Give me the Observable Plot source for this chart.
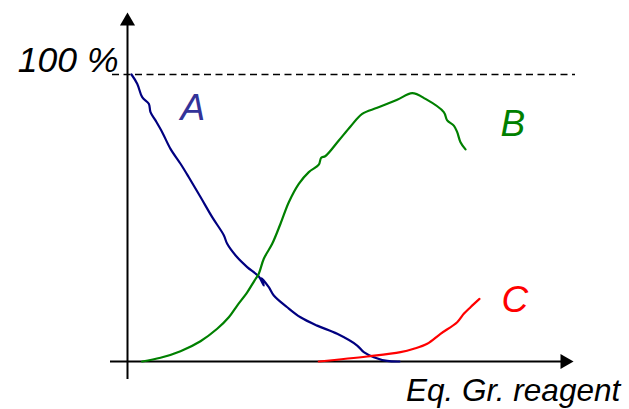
<!DOCTYPE html>
<html>
<head>
<meta charset="utf-8">
<script src="https://cdn.jsdelivr.net/npm/d3@7"></script>
<script src="https://cdn.jsdelivr.net/npm/@observablehq/plot@0.6"></script>
<style>
  html, body { margin: 0; padding: 0; background: #fff; }
  #chart svg { display: block; font-family: "Liberation Sans", Arial, sans-serif; }
</style>
</head>
<body>
<div id="chart"></div>
<script>
// Series A (reactant), x = equivalents of Grignard reagent, y = %
const seriesA_x = [0.04,0.097,0.147,0.213,0.23,0.28,0.347,0.43,0.53,0.613,0.73,0.847,0.963,0.997,1.097,1.197,1.313,1.363,1.34,1.413,1.463,1.597,1.73,1.897,2.097,2.297,2.363,2.463,2.597,2.72];
const seriesA_y = [100,96.8,92.1,89.8,86.9,84.0,79.9,74.1,68.9,64.2,57.3,50.3,44.0,41.0,36.3,32.9,29.6,26.5,29.0,25.9,23.0,18.9,15.4,12.5,9.65,5.57,3.24,1.5,0.2,0];

// Series B (intermediate)
const seriesB_x = [0.147,0.33,0.53,0.73,0.897,1.013,1.097,1.197,1.27,1.313,1.363,1.447,1.53,1.613,1.713,1.813,1.913,1.937,1.98,2.113,2.23,2.347,2.497,2.697,2.847,2.98,3.163,3.197,3.263,3.297,3.33,3.38];
const seriesB_y = [0,1.29,3.59,7.07,11.4,15.4,19.5,24.1,28.2,30.6,35.8,41.0,48.0,55.5,61.9,66.0,68.6,71.0,71.6,77.0,81.9,86.3,88.4,91.2,93.5,91.5,86.9,84.0,82.2,79.9,76.4,73.9];

// Series C (product)
const seriesC_x = [1.913,2.397,2.73,2.863,2.997,3.13,3.297,3.363,3.43,3.52];
const seriesC_y = [0,1.74,3.24,4.42,6.17,9.65,13.7,16.6,18.9,21.8];

// Labels
const seriesNames = ["A", "B", "C"];
const lineColors = ["#000080", "#008000", "#ff0000"];
const labelColors = ["#333399", "#008000", "#ff0000"];
const labelX = [0.53, 3.73, 3.74];
const labelY = [84.0, 78.4, 17.4];
const yTickLabel = "100 %";
const yTickValue = 100;
const xAxisTitle = "Eq. Gr. reagent";

// Axis extents (data units)
const xAxisStart = -0.17, xAxisTip = 4.46;
const yAxisBottom = -6.3, yAxisTip = 121.6;

const toRows = (xs, ys) => xs.map((x, i) => ({x, y: ys[i]}));
const series = [toRows(seriesA_x, seriesA_y), toRows(seriesB_x, seriesB_y), toRows(seriesC_x, seriesC_y)];
const font = "Liberation Sans, Arial, sans-serif";

const marks = [
  // dashed 100% line
  Plot.ruleY([yTickValue], {x1: -0.15, x2: 4.48, stroke: "#000", strokeWidth: 1.5, strokeDasharray: "7,4.5"}),
  // axes
  Plot.ruleX([0], {y1: yAxisBottom, y2: yAxisTip - 3, stroke: "#000", strokeWidth: 2}),
  Plot.ruleY([0], {x1: xAxisStart, x2: xAxisTip - 0.1, stroke: "#000", strokeWidth: 2}),
  Plot.dot([{x: 0, y: yAxisTip}], {x: "x", y: "y", symbol: "triangle2", r: 7.2, fill: "#000", stroke: "none", dy: 8.66}),
  Plot.dot([{x: xAxisTip, y: 0}], {x: "x", y: "y", symbol: "triangle2", r: 7.2, fill: "#000", stroke: "none", rotate: 90, dx: -8.66}),
  // curves
  ...series.map((rows, i) => Plot.line(rows, {x: "x", y: "y", stroke: lineColors[i], strokeWidth: 2.2, curve: "catmull-rom"})),
  // series labels
  Plot.text(seriesNames.map((n, i) => ({n, x: labelX[i], y: labelY[i], c: labelColors[i]})),
    {x: "x", y: "y", text: "n", fill: d => d.c, fontSize: 37, fontStyle: "italic", textAnchor: "start", lineAnchor: "bottom", fontFamily: font}),
  // y tick label
  Plot.text([yTickLabel], {x: -0.09, y: 100.7, text: d => d, fontSize: 35.5, fontStyle: "italic", textAnchor: "end", lineAnchor: "bottom", fill: "#000", fontFamily: font}),
  // x axis title
  Plot.text([xAxisTitle], {x: 2.785, y: -13.9, text: d => d, fontSize: 31.5, fontStyle: "italic", textAnchor: "start", lineAnchor: "bottom", fill: "#000", fontFamily: font})
];

const chart = Plot.plot({
  width: 629,
  height: 409,
  x: {domain: [0, 4.5], range: [127, 577], axis: null},
  y: {domain: [0, 100], range: [361, 74], axis: null},
  style: {background: "#fff", fontFamily: font, overflow: "visible"},
  marks
});
document.getElementById("chart").appendChild(chart);
</script>
</body>
</html>
